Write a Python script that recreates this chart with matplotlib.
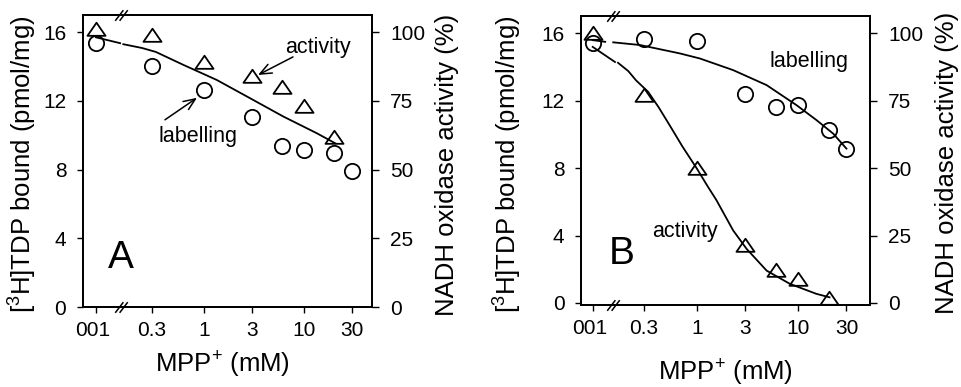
import matplotlib
matplotlib.use('Agg')
import matplotlib.pyplot as plt
import matplotlib.transforms as mtransforms
from matplotlib.path import Path
from matplotlib.ticker import NullLocator, FixedLocator, FixedFormatter

plt.rcParams['font.family'] = ['Liberation Sans', 'DejaVu Sans']
plt.rcParams['mathtext.fontset'] = 'custom'
plt.rcParams['mathtext.rm'] = 'Liberation Sans'
plt.rcParams['mathtext.it'] = 'Liberation Sans:italic'
plt.rcParams['mathtext.bf'] = 'Liberation Sans:bold'
plt.rcParams['mathtext.default'] = 'regular'

nan = float('nan')

# ---------------- data (MPP+ in mM; 0 = control) ----------------
# Panel A
conc_lab_A = [0, 0.3, 1, 3, 6, 10, 20, 30]
lab_A = [15.36, 14.06, 12.64, 11.09, 9.40, 9.15, 8.99, 7.89]          # pmol/mg
conc_act_A = [0, 0.3, 1, 3, 6, 10, 20]
act_A = [101, 99, 89, 84, 80, 73, 62]                                 # %
fit_x_A = [0, 0.145, nan, 0.156, 0.24, 0.33, 0.62, 1.34, 2.88, 6.21, 13.4, 20.4]
fit_y_A = [15.70, 15.36, nan, 15.30, 15.08, 14.85, 14.10, 13.22, 12.16, 11.09, 10.12, 9.54]

# Panel B
conc_lab_B = [0, 0.3, 1, 3, 6, 10, 20, 30]
lab_B = [15.44, 15.66, 15.56, 12.43, 11.64, 11.78, 10.25, 9.12]       # pmol/mg
conc_act_B = [0, 0.3, 1, 3, 6, 10, 20]
act_B = [100, 77, 50, 21.6, 12.3, 8.9, 1.7]                           # %
fit_lab_x_B = [0, 0.124, nan, 0.149, 0.274, 0.68, 1.07, 2.28, 4.88, 9.64, 15.2, 22.2, 30]
fit_lab_y_B = [15.60, 15.50, nan, 15.47, 15.31, 14.81, 14.51, 13.82, 12.93, 11.74, 10.85, 10.05, 9.16]
fit_act_x_B = [0, 0.155, nan, 0.166, 0.21, 0.25, 0.33, 0.42, 0.54, 0.72, 1.0, 1.26,
               1.56, 2.28, 3.09, 4.88, 8.28, 15.1, 20.4]
fit_act_y_B = [95.0, 89.4, nan, 89.1, 86.0, 82.6, 78.3, 72.5, 65.8, 58.0, 49.8, 43.6,
               38.1, 26.9, 20.1, 12.0, 7.1, 3.4, 2.1]

x_ticks = [0.3, 1, 3, 10, 30]
x_ticklabels = ['0.3', '1', '3', '10', '30']
ctrl_label = '001'
yl_ticks = [0, 4, 8, 12, 16]
yr_ticks = [0, 25, 50, 75, 100]
xlabel = 'MPP$^{+}$ (mM)'
ylabel_l = '[$^{3}$H]TDP bound (pmol/mg)'
ylabel_r = 'NADH oxidase activity (%)'

# ---------------- style ----------------
TICK_FS = 15
LAB_FS = 18.5
TXT_FS = 15.5
LW_SPINE = 1.3
tri = Path([(-1, -0.7), (1, -0.7), (0, 0.75), (-1, -0.7)],
           [Path.MOVETO, Path.LINETO, Path.LINETO, Path.CLOSEPOLY])
brk = Path([(-1, -0.85), (0.3, 0.85), (-0.3, -0.85), (1, 0.85)],
           [Path.MOVETO, Path.LINETO, Path.MOVETO, Path.LINETO])

fig = plt.figure(figsize=(9.62, 3.87), dpi=100)


def mapx(xs, ctrl):
    return [ctrl if v == 0 else v for v in xs]


def setup(ax, ax2, ctrl, xlim, ylim, brk_x):
    ax.set_xscale('log')
    ax.set_xlim(*xlim)
    ax.set_ylim(*ylim)
    ax2.set_ylim(ylim[0] * 100 / 16, ylim[1] * 100 / 16)
    ax.xaxis.set_minor_locator(NullLocator())
    ax.xaxis.set_major_locator(FixedLocator([ctrl] + x_ticks))
    ax.xaxis.set_major_formatter(FixedFormatter([ctrl_label] + x_ticklabels))
    ax.yaxis.set_major_locator(FixedLocator(yl_ticks))
    ax2.yaxis.set_major_locator(FixedLocator(yr_ticks))
    ax2.yaxis.set_minor_locator(NullLocator())
    for a in (ax, ax2):
        for s in a.spines.values():
            s.set_linewidth(LW_SPINE)
    ax.tick_params(axis='both', direction='out', length=4, width=1,
                   labelsize=TICK_FS, pad=8, top=False)
    ax.tick_params(axis='x', pad=6)
    ax2.tick_params(axis='y', direction='out', length=5, width=1,
                    labelsize=TICK_FS, pad=8)
    # shift the control label slightly left, as in the original
    lbl = ax.xaxis.get_majorticklabels()[0]
    lbl.set_transform(lbl.get_transform() +
                      mtransforms.ScaledTranslation(-3 / 100, 0, fig.dpi_scale_trans))
    # axis break marks
    tr = mtransforms.blended_transform_factory(ax.transData, ax.transAxes)
    for yy in (0, 1):
        ax.plot([brk_x], [yy], transform=tr, marker=brk, ms=9, mew=1.1,
                color='black', clip_on=False, zorder=10, ls='none')


# ---------------- panel A ----------------
ctrlA = 10 ** -1.08
axA = fig.add_axes([0.0863, 0.2067, 0.3004, 0.7545])
axA2 = axA.twinx()
setup(axA, axA2, ctrlA, (10 ** -1.21, 10 ** 1.68), (0, 17.0), 10 ** -0.83)
axA.plot(mapx(fit_x_A, ctrlA), fit_y_A, color='black', lw=1.3)
axA.plot(mapx(conc_lab_A, ctrlA), lab_A, ls='none', marker='o', ms=11,
         mfc='none', mec='black', mew=1.3)
axA2.plot(mapx(conc_act_A, ctrlA), act_A, ls='none', marker=tri, ms=13,
          mfc='none', mec='black', mew=1.3)
axA.text(13.8, 14.78, 'activity', ha='center', va='baseline', fontsize=TXT_FS)
axA.text(0.861, 9.63, 'labelling', ha='center', va='baseline', fontsize=TXT_FS)
arr = dict(arrowstyle='->,head_length=0.6,head_width=0.25', lw=1.1,
           color='black', mutation_scale=14, shrinkA=0, shrinkB=0)
axA.annotate('', xy=(3.47, 13.51), xytext=(7.76, 14.56), arrowprops=arr)
axA.annotate('', xy=(0.851, 12.18), xytext=(0.407, 10.9), arrowprops=arr)
axA.text(0.148, 2.27, 'A', ha='center', va='baseline', fontsize=28)
axA.set_xlabel(xlabel, fontsize=LAB_FS)
axA.set_ylabel(ylabel_l, fontsize=LAB_FS)
axA2.set_ylabel(ylabel_r, fontsize=LAB_FS)
axA.xaxis.set_label_coords(0.483, -0.199)
axA.xaxis.label.set_va('center')
axA.yaxis.set_label_coords(-0.208, 0.488)
axA.yaxis.label.set_va('center')
axA2.yaxis.set_label_coords(1.258, 0.486)
axA2.yaxis.label.set_va('center')

# ---------------- panel B ----------------
ctrlB = 10 ** -1.03
axB = fig.add_axes([0.604, 0.2119, 0.3004, 0.7475])
axB2 = axB.twinx()
setup(axB, axB2, ctrlB, (10 ** -1.145, 10 ** 1.71), (-0.12, 17.05), 10 ** -0.83)
axB.plot(mapx(fit_lab_x_B, ctrlB), fit_lab_y_B, color='black', lw=1.3)
axB2.plot(mapx(fit_act_x_B, ctrlB), fit_act_y_B, color='black', lw=1.3)
axB.plot(mapx(conc_lab_B, ctrlB), lab_B, ls='none', marker='o', ms=11,
         mfc='none', mec='black', mew=1.3)
axB2.plot(mapx(conc_act_B, ctrlB), act_B, ls='none', marker=tri, ms=13,
          mfc='none', mec='black', mew=1.3)
axB.text(12.8, 14.02, 'labelling', ha='center', va='baseline', fontsize=TXT_FS)
axB.text(0.753, 3.9, 'activity', ha='center', va='baseline', fontsize=TXT_FS)
axB.text(0.18, 2.32, 'B', ha='center', va='baseline', fontsize=28)
axB.set_xlabel(xlabel, fontsize=LAB_FS)
axB.set_ylabel(ylabel_l, fontsize=LAB_FS)
axB2.set_ylabel(ylabel_r, fontsize=LAB_FS)
axB.xaxis.set_label_coords(0.498, -0.235)
axB.xaxis.label.set_va('center')
axB.yaxis.set_label_coords(-0.253, 0.487)
axB.yaxis.label.set_va('center')
axB2.yaxis.set_label_coords(1.268, 0.493)
axB2.yaxis.label.set_va('center')

fig.savefig('out.png', dpi=100)
